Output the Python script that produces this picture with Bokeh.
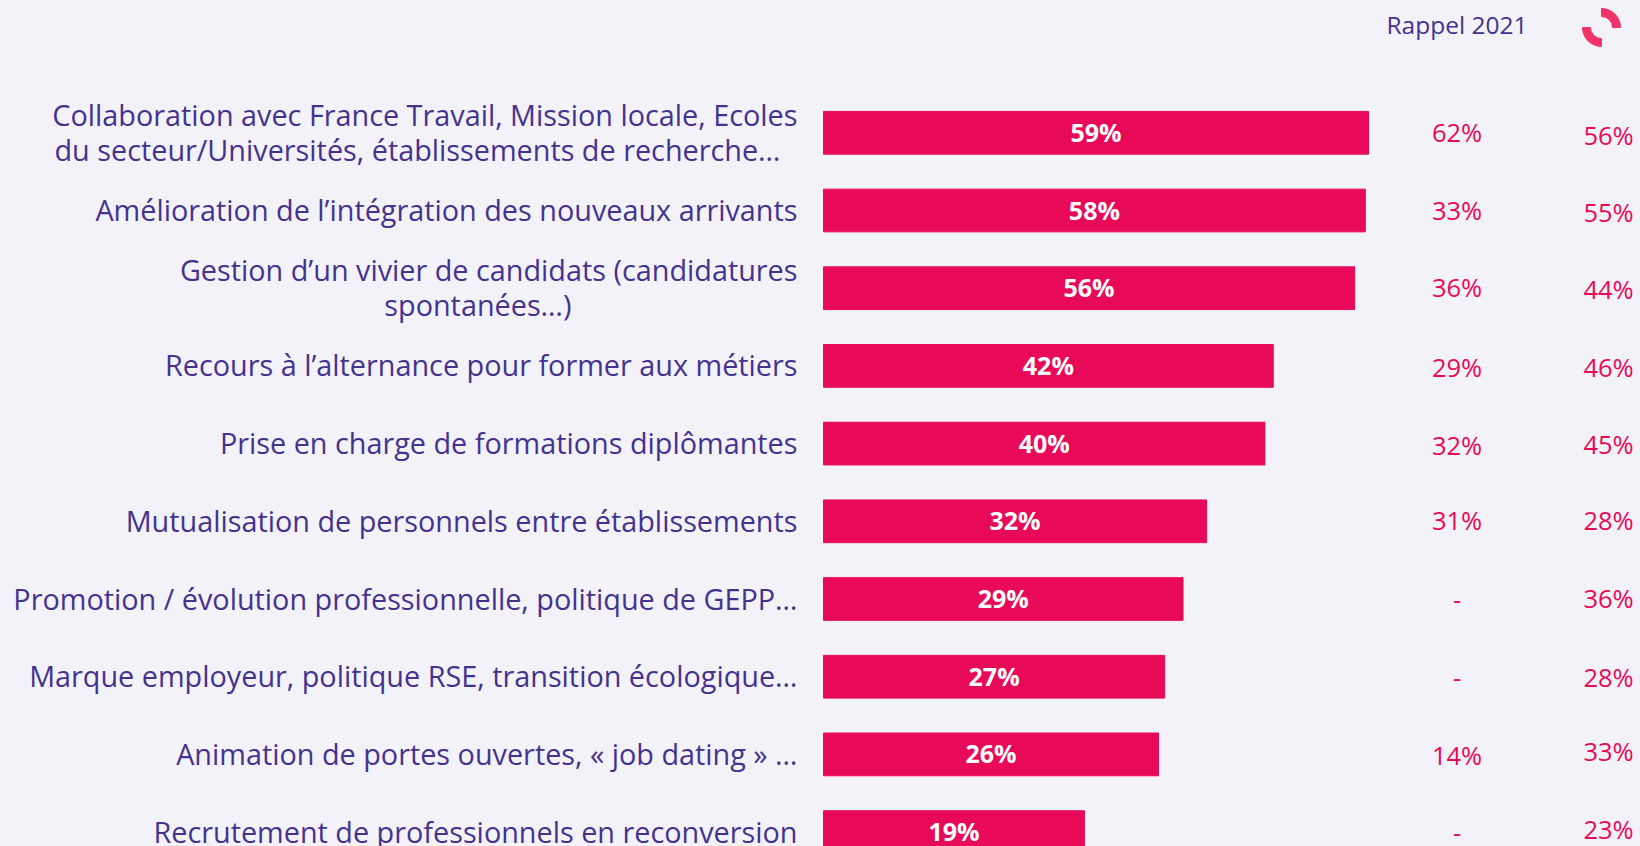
from bokeh.plotting import figure
from bokeh.models import Range1d, ColumnDataSource
from bokeh.core.properties import value
from bokeh.embed import file_html
from bokeh.resources import INLINE
import math

categories_line1 = [
    "Collaboration avec France Travail, Mission locale, Ecoles",
    "Amélioration de l’intégration des nouveaux arrivants",
    "Gestion d’un vivier de candidats (candidatures",
    "Recours à l’alternance pour former aux métiers",
    "Prise en charge de formations diplômantes",
    "Mutualisation de personnels entre établissements",
    "Promotion / évolution professionnelle, politique de GEPP…",
    "Marque employeur, politique RSE, transition écologique…",
    "Animation de portes ouvertes, « job dating » …",
    "Recrutement de professionnels en reconversion",
]
categories_line2 = [
    "du secteur/Universités, établissements de recherche…",
    "", "spontanées…)", "", "", "", "", "", "", "",
]
labels_2024 = ["59%", "58%", "56%", "42%", "40%", "32%", "29%", "27%", "26%", "19%"]
# Drawn bar lengths (the source bars are not proportional to their labels)
bar_lengths = [58.9, 58.55, 57.4, 48.6, 47.7, 41.4, 38.85, 36.87, 36.2, 28.2]
rappel_2021 = ["62%", "33%", "36%", "29%", "32%", "31%", "-", "-", "14%", "-"]
column_3 = ["56%", "55%", "44%", "46%", "45%", "28%", "36%", "28%", "33%", "23%"]
header = "Rappel 2021"

BG = "#F3F2F9"
INK = "#45328F"
RED = "#E80A58"
ICON = "#EE3469"
FONT = value("Open Sans")
W, H = 1640, 846

PX_X = 9.254      # pixels per length unit
PX_Y = 77.7       # pixels per row
X0 = 823          # page x of the bars' base
Y0 = 132.3        # page y of the first row

p = figure(width=W, height=H, output_backend="svg", toolbar_location=None,
           x_range=Range1d(-X0 / PX_X, (W - X0) / PX_X),
           y_range=Range1d((H - Y0) / PX_Y, -Y0 / PX_Y),
           background_fill_color=BG, border_fill_color=BG,
           min_border=0, outline_line_color=None)
p.axis.visible = False
p.grid.visible = False

rows = list(range(len(categories_line1)))
src = ColumnDataSource(dict(
    row=rows, length=bar_lengths, mid=[b / 2 for b in bar_lengths],
    l1=categories_line1, l2=categories_line2, v=labels_2024, r=rappel_2021, c=column_3,
    l1_shift=[-18.5 if t else -1 for t in categories_line2],
    l2_shift=[16.5 if t else 0 for t in categories_line2],
    l2_dx=[-17, 0, -226, 0, 0, 0, 0, 0, 0, 0],
    r_dy=[-1, -1, -1, 1, 1, -1, 1, 1, 1, 1],
    c_dy=[2, 1, 1, 1, 0, -1, -1, 0, -3, -3],
))

p.hbar(y="row", left=0, right="length", height=0.55, color=RED, source=src)

LABEL_X = (797 - X0) / PX_X
p.text(x=LABEL_X, y="row", text="l1", source=src, text_font=FONT, text_font_size="28.8px",
       text_color=INK, text_align="right", text_baseline="middle",
       y_offset="l1_shift")
p.text(x=LABEL_X, y="row", text="l2", source=src, text_font=FONT, text_font_size="28.8px",
       text_color=INK, text_align="right", text_baseline="middle",
       y_offset="l2_shift", x_offset="l2_dx")

p.text(x="mid", y="row", text="v", source=src, text_font=FONT, text_font_size="25px",
       text_font_style="bold", text_color="#FFFFFF", text_align="center", text_baseline="middle",
       y_offset=-1)

COL2 = (1456.5 - X0) / PX_X
COL3 = (1608 - X0) / PX_X
p.text(x=COL2, y="row", text="r", source=src, text_font=FONT, text_font_size="25.5px",
       text_color=RED, text_align="center", text_baseline="middle", y_offset="r_dy")
p.text(x=COL3, y="row", text="c", source=src, text_font=FONT, text_font_size="25.5px",
       text_color=RED, text_align="center", text_baseline="middle", y_offset="c_dy")

p.text(x=[COL2], y=[(24 - Y0) / PX_Y], text=[header], text_font=FONT, text_font_size="24.5px",
       text_color=INK, text_align="center", text_baseline="middle")

ix, iy = (1601 - X0) / PX_X, (27 - Y0) / PX_Y
for a in (0, 180):
    p.annular_wedge(x=[ix], y=[iy], inner_radius=11, outer_radius=19,
                    inner_radius_units="screen", outer_radius_units="screen",
                    start_angle=math.radians(a), end_angle=math.radians(a + 90),
                    direction="anticlock", color=ICON)

html = file_html(p, INLINE)
html = html.replace("</head>", "<style>html,body{margin:0;padding:0;background:%s;overflow:hidden}</style></head>" % BG)
open("out.html", "w").write(html)
